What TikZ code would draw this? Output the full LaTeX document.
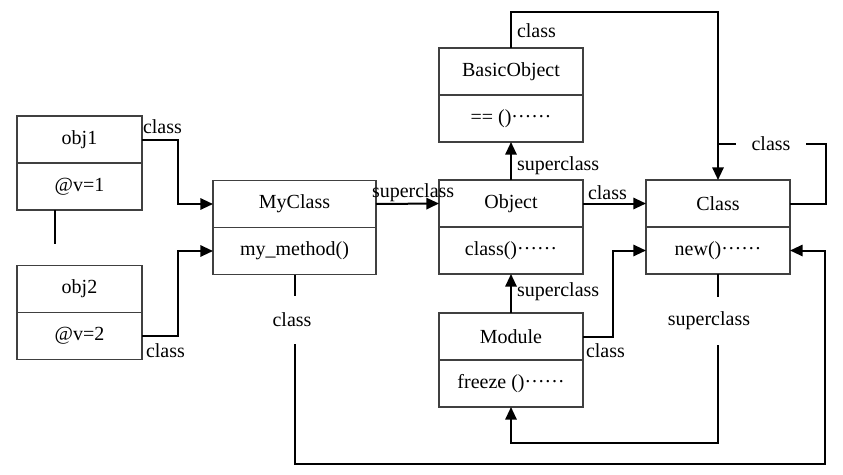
\documentclass[tikz,border=0pt]{standalone}
\usepackage{fontspec}
\setmainfont{Liberation Serif}
\usetikzlibrary{arrows.meta}
\newcommand\mydots{\raisebox{0.3em}{……}}
\begin{document}
\begin{tikzpicture}[x=0.75pt,y=-0.75pt,
  font=\fontsize{15}{18}\selectfont,
  cell/.style={draw=black!75, line width=1.1pt, minimum height=35.25pt, inner sep=0pt, outer sep=0pt, anchor=north west},
  cellb/.style={cell, anchor=north},
  link/.style={line width=1.5pt},
  arr/.style={link, -{Triangle[length=9.5pt,width=8.5pt]}},
  lbl/.style={inner sep=0pt, outer sep=0pt},
  gap/.style={lbl, minimum height=36pt}]
\useasboundingbox (0,0) rectangle (843,475);

% boxes
\node[cell, minimum width=93.75pt] (obj1) at (17,116) {obj1};
\node[cellb, minimum width=93.75pt] (obj1m) at (obj1.south) {@v=1};
\node[cell, minimum width=93.75pt] (obj2) at (17,265.5) {obj2};
\node[cellb, minimum width=93.75pt] (obj2m) at (obj2.south) {@v=2};
\node[cell, minimum width=122.25pt] (MyClass) at (213,180.5) {MyClass};
\node[cellb, minimum width=122.25pt] (MyClassm) at (MyClass.south) {my\_method()};
\node[cell, minimum width=108pt] (Object) at (439,180) {Object};
\node[cellb, minimum width=108pt] (Objectm) at (Object.south) {class()\mydots};
\node[cell, minimum width=108pt] (Class) at (646,180) {Class};
\node[cellb, minimum width=108pt] (Classm) at (Class.south) {new()\mydots};
\node[cell, minimum width=108pt] (Basic) at (439,48) {BasicObject};
\node[cellb, minimum width=108pt] (Basicm) at (Basic.south) {== ()\mydots};
\node[cell, minimum width=108pt] (Module) at (439,313) {Module};
\node[cellb, minimum width=108pt] (Modulem) at (Module.south) {freeze ()\mydots};

% stub between obj1 and obj2
\coordinate (stub) at (55,244);
\draw[link] (stub |- obj1m.south) -- (stub);

% labels
\node[lbl, anchor=base west] (l1) at (143,133) {class};
\node[lbl, anchor=base west] (l2) at (146,357) {class};
\node[lbl, anchor=base west] (l3) at (372,197) {superclass};
\node[lbl, anchor=base west] (l4) at (588,199) {class};
\node[lbl, anchor=base west] (l5) at (517,170) {superclass};
\node[lbl, anchor=base west] (l6) at (517,37) {class};
\node[lbl, anchor=base west] (l7) at (517,296) {superclass};
\node[lbl, anchor=base west] (l8) at (586,357) {class};
\node[lbl, inner xsep=12pt] (cc) at (771,144) {class};
\node[gap] (cl2) at (292,320) {class};
\node[gap] (sc3) at (709,321) {superclass};

% connectors
\draw[arr] (obj1.east) -- ++(36,0) |- (MyClass.west);
\draw[arr] (obj2m.east) -- ++(36,0) |- (MyClassm.west);
\draw[arr] (MyClass.east) -- (Object.west);
\draw[arr] (Object.east) -- (Class.west);
\draw[arr] (Object.north) -- (Basicm.south);
\draw[arr] (Module.north) -- (Objectm.south);
\draw[arr] (Module.east) -- ++(30,0) |- (Classm.west);

\coordinate (topY) at (0,12);
\draw[arr] (Basic.north) |- (Class.north |- topY) -- (Class.north);

\coordinate (loopR) at (826,144);
\draw[link] (Class.east) -| (loopR) -- (cc.east);
\draw[link] (cc.west) -- (cc.west -| Class.north);

\coordinate (outer) at (825,464);
\draw[link] (MyClassm.south) -- (MyClassm.south |- cl2.north);
\draw[arr] (MyClassm.south |- cl2.south) |- (outer) |- (Classm.east);

\coordinate (inner) at (0,443);
\draw[link] (Classm.south) -- (Classm.south |- sc3.north);
\draw[arr] (Classm.south |- sc3.south) |- (Modulem.south |- inner) -- (Modulem.south);
\end{tikzpicture}
\end{document}
